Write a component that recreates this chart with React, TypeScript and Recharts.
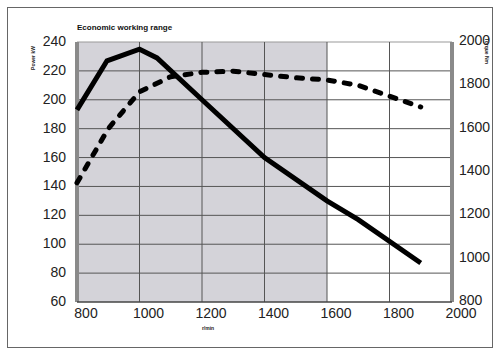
import { LineChart, Line, XAxis, YAxis, ReferenceArea, ReferenceLine } from "recharts";

// engine speed r/min
const rpmTicks = [800, 1000, 1200, 1400, 1600, 1800, 2000];
const powerTicks = [60, 80, 100, 120, 140, 160, 180, 200, 220, 240];
const torqueTicks = [800, 1000, 1200, 1400, 1600, 1800, 2000];

// power curve (kW), solid
const powerRpm = [800, 896, 1000, 1056, 1200, 1400, 1600, 1700, 1900];
const powerKw = [193, 227, 235, 229, 200, 160, 130, 117, 87];

// torque curve (Nm), dashed
const torqueRpm = [800, 900, 1000, 1100, 1200, 1300, 1400, 1500, 1600, 1700, 1800, 1900];
const torqueNm = [1350, 1600, 1770, 1840, 1860, 1865, 1850, 1835, 1825, 1800, 1750, 1700];

const economicRange = [800, 1600];

const powerData = powerRpm.map((rpm, i) => ({ rpm, power: powerKw[i] }));
const torqueData = torqueRpm.map((rpm, i) => ({ rpm, torque: torqueNm[i] }));

const font = "'Liberation Sans', Arial, sans-serif";
const tickStyle = { fontSize: 14, fill: "#222", fontFamily: font };

// grid drawn as reference lines so it sits above the shaded range
const innerRpm = rpmTicks.slice(1, -1);
const innerPower = powerTicks.slice(1);

export default function App() {
  return (
    <div style={{ position: "absolute", left: 0, top: 0, width: 493, height: 351, background: "#fff", fontFamily: font }}>
      <div
        style={{
          position: "absolute",
          left: 7,
          top: 7,
          width: 486,
          height: 341,
          border: "1.5px solid #666",
          boxSizing: "border-box",
        }}
      />
      <LineChart width={493} height={351} margin={{ top: 42, right: 0, bottom: 0, left: 0 }} style={{ position: "absolute", left: 0, top: 0 }}>
        <XAxis
          dataKey="rpm"
          type="number"
          domain={[800, 2000]}
          ticks={rpmTicks}
          height={49}
          tickSize={0}
          tickMargin={6}
          tick={{ ...tickStyle, dx: 9 }}
          axisLine={{ stroke: "#444", strokeWidth: 1.5 }}
          allowDuplicatedCategory={false}
        />
        <YAxis
          yAxisId="left"
          type="number"
          domain={[60, 240]}
          ticks={powerTicks}
          width={77}
          tickSize={0}
          tickMargin={11}
          tick={{ ...tickStyle, dy: -1 }}
          axisLine={false}
        />
        <YAxis
          yAxisId="right"
          orientation="right"
          type="number"
          domain={[800, 2000]}
          ticks={torqueTicks}
          width={41}
          tickSize={0}
          tickMargin={7}
          tick={{ ...tickStyle, dy: -2 }}
          axisLine={false}
        />
        <ReferenceArea
          yAxisId="left"
          x1={economicRange[0]}
          x2={economicRange[1]}
          y1={60}
          y2={240}
          fill="#d4d3d9"
          fillOpacity={1}
          stroke="none"
        />
        {innerPower.map((v) => (
          <ReferenceLine key={`h${v}`} yAxisId="left" y={v} stroke={v === 240 ? "#999" : "#555"} strokeWidth={1} />
        ))}
        {innerRpm.map((v) => (
          <ReferenceLine key={`v${v}`} yAxisId="left" x={v} stroke="#555" strokeWidth={1} />
        ))}
        <ReferenceLine yAxisId="left" x={800} stroke="#8a8a8a" strokeWidth={4} />
        <ReferenceLine yAxisId="left" x={2000} stroke="#8a8a8a" strokeWidth={4} />
        <Line
          yAxisId="left"
          data={powerData}
          dataKey="power"
          type="linear"
          stroke="#000"
          strokeWidth={5}
          dot={false}
          isAnimationActive={false}
        />
        <Line
          yAxisId="right"
          data={torqueData}
          dataKey="torque"
          type="linear"
          stroke="#000"
          strokeWidth={5}
          strokeDasharray="6 10"
          strokeLinecap="round"
          dot={false}
          isAnimationActive={false}
        />
      </LineChart>
      <div style={{ position: "absolute", left: 77, top: 23, fontSize: 8, fontWeight: "bold", color: "#111", whiteSpace: "nowrap" }}>
        Economic working range
      </div>
      <div
        style={{
          position: "absolute",
          left: 33,
          top: 58,
          fontSize: 5,
          fontWeight: "bold",
          color: "#222",
          whiteSpace: "nowrap",
          transform: "translate(-50%, -50%) rotate(-90deg)",
        }}
      >
        Power kW
      </div>
      <div
        style={{
          position: "absolute",
          left: 487,
          top: 51,
          fontSize: 5,
          fontWeight: "bold",
          color: "#222",
          whiteSpace: "nowrap",
          transform: "translate(-50%, -50%) rotate(90deg)",
        }}
      >
        Torque Nm
      </div>
      <div
        style={{
          position: "absolute",
          left: 208,
          top: 328,
          fontSize: 5,
          fontWeight: "bold",
          color: "#222",
          whiteSpace: "nowrap",
          transform: "translate(-50%, -50%)",
        }}
      >
        r/min
      </div>
    </div>
  );
}
